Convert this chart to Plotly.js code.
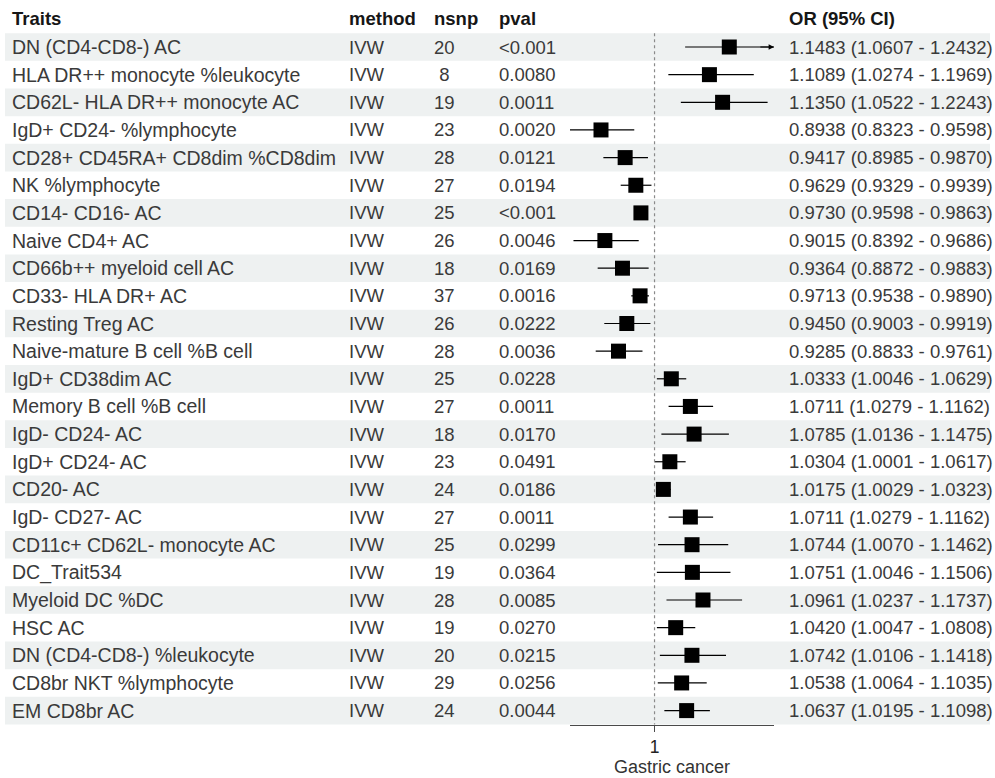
<!DOCTYPE html>
<html>
<head>
<meta charset="utf-8">
<script src="https://cdn.plot.ly/plotly-3.0.1.min.js"></script>
<style>html,body{margin:0;padding:0;background:#fff;}#chart{width:995px;height:778px;}</style>
</head>
<body>
<div id="chart"></div>
<script>
// ---- Data ----
const traits = [
  "DN (CD4-CD8-) AC",
  "HLA DR++ monocyte %leukocyte",
  "CD62L- HLA DR++ monocyte AC",
  "IgD+ CD24- %lymphocyte",
  "CD28+ CD45RA+ CD8dim %CD8dim",
  "NK %lymphocyte",
  "CD14- CD16- AC",
  "Naive CD4+ AC",
  "CD66b++ myeloid cell AC",
  "CD33- HLA DR+ AC",
  "Resting Treg AC",
  "Naive-mature B cell %B cell",
  "IgD+ CD38dim AC",
  "Memory B cell %B cell",
  "IgD- CD24- AC",
  "IgD+ CD24- AC",
  "CD20- AC",
  "IgD- CD27- AC",
  "CD11c+ CD62L- monocyte AC",
  "DC_Trait534",
  "Myeloid DC %DC",
  "HSC AC",
  "DN (CD4-CD8-) %leukocyte",
  "CD8br NKT %lymphocyte",
  "EM CD8br AC"
];
const method = ["IVW","IVW","IVW","IVW","IVW","IVW","IVW","IVW","IVW","IVW","IVW","IVW","IVW","IVW","IVW","IVW","IVW","IVW","IVW","IVW","IVW","IVW","IVW","IVW","IVW"];
const nsnp = [20, 8, 19, 23, 28, 27, 25, 26, 18, 37, 26, 28, 25, 27, 18, 23, 24, 27, 25, 19, 28, 19, 20, 29, 24];
const pval = ["<0.001","0.0080","0.0011","0.0020","0.0121","0.0194","<0.001","0.0046","0.0169","0.0016","0.0222","0.0036","0.0228","0.0011","0.0170","0.0491","0.0186","0.0011","0.0299","0.0364","0.0085","0.0270","0.0215","0.0256","0.0044"];
const orVal = [1.1483, 1.1089, 1.1350, 0.8938, 0.9417, 0.9629, 0.9730, 0.9015, 0.9364, 0.9713, 0.9450, 0.9285, 1.0333, 1.0711, 1.0785, 1.0304, 1.0175, 1.0711, 1.0744, 1.0751, 1.0961, 1.0420, 1.0742, 1.0538, 1.0637];
const lower = [1.0607, 1.0274, 1.0522, 0.8323, 0.8985, 0.9329, 0.9598, 0.8392, 0.8872, 0.9538, 0.9003, 0.8833, 1.0046, 1.0279, 1.0136, 1.0001, 1.0029, 1.0279, 1.0070, 1.0046, 1.0237, 1.0047, 1.0106, 1.0064, 1.0195];
const upper = [1.2432, 1.1969, 1.2243, 0.9598, 0.9870, 0.9939, 0.9863, 0.9686, 0.9883, 0.9890, 0.9919, 0.9761, 1.0629, 1.1162, 1.1475, 1.0617, 1.0323, 1.1162, 1.1462, 1.1506, 1.1737, 1.0808, 1.1418, 1.1035, 1.1098];
const headers = ["Traits", "method", "nsnp", "pval", "OR (95% CI)"];
const xTitle = "Gastric cancer";

// ---- Layout constants ----
const W = 995, H = 778;
const rowTop = 47, rowStep = 27.65;           // pixel centre of row 1, row spacing
const yTopVal = -rowTop / rowStep + 1;        // y value at pixel 0
const yBotVal = (H - rowTop) / rowStep + 1;   // y value at pixel H
const xRange = [0.8323, 1.237];
const colX = [10, 347, 432, 497, 787];        // left edge of each text column (px)
const FONT = "Liberation Sans, Arial, sans-serif";
const bodyColor = "#3a3a3a";
const headColor = "#161616";
const FS = 18.5;
const colFS = [19.5, FS, FS, FS, FS];

const n = traits.length;
const rows = traits.map((_, i) => i + 1);
const nsnpW = Math.max(...nsnp.map(v => String(v).length));
const ciText = orVal.map((v, i) => v.toFixed(4) + " (" + lower[i].toFixed(4) + " - " + upper[i].toFixed(4) + ")");

const shapes = [];
// alternating row shading
rows.forEach(r => {
  if (r % 2 === 1) {
    shapes.push({type: "rect", layer: "below", xref: "paper", yref: "y",
      x0: 5 / W, x1: 990 / W, y0: r - 0.5, y1: r + 0.5,
      fillcolor: "#eef1f1", line: {width: 0}});
  }
});
// reference line at OR = 1
shapes.push({type: "line", xref: "x", yref: "y", x0: 1, x1: 1, y0: 0.5, y1: n + 0.5,
  line: {color: "#8a8a8a", width: 1.2, dash: "dot"}});

const annotations = [];
const cols = [traits, method, nsnp.map(v => String(v).padStart(nsnpW, "\u00a0")), pval, ciText];
headers.forEach((h, c) => {
  annotations.push({xref: "paper", yref: "y", x: colX[c] / W, y: -0.03, xanchor: "left", yanchor: "middle",
    text: "<b>" + h + "</b>", showarrow: false, font: {family: FONT, size: FS, color: headColor}});
});
cols.forEach((col, c) => {
  col.forEach((t, i) => {
    annotations.push({xref: "paper", yref: "y", x: colX[c] / W, y: rows[i], xanchor: "left", yanchor: "middle",
      text: t, showarrow: false, font: {family: FONT, size: colFS[c], color: bodyColor}});
  });
});
// arrows where the CI runs past the axis range
upper.forEach((u, i) => {
  if (u > xRange[1]) {
    annotations.push({xref: "x", yref: "y", axref: "x", ayref: "y",
      x: xRange[1], y: rows[i], ax: xRange[1] - 0.03, ay: rows[i], text: "",
      showarrow: true, arrowhead: 2, arrowsize: 0.9, arrowwidth: 1.2, arrowcolor: "#000"});
  }
  if (lower[i] < xRange[0]) {
    annotations.push({xref: "x", yref: "y", axref: "x", ayref: "y",
      x: xRange[0], y: rows[i], ax: xRange[0] + 0.03, ay: rows[i], text: "",
      showarrow: true, arrowhead: 2, arrowsize: 0.9, arrowwidth: 1.2, arrowcolor: "#000"});
  }
});

const trace = {
  type: "scatter", mode: "markers", x: orVal, y: rows, hoverinfo: "skip",
  marker: {symbol: "square", size: 15, color: "#000"},
  error_x: {type: "data", symmetric: false,
    array: upper.map((u, i) => u - orVal[i]),
    arrayminus: lower.map((l, i) => orVal[i] - l),
    width: 0, thickness: 1.2, color: "#000"}
};

const axisPx = rowTop + (n - 0.5) * rowStep + 0.5;   // just under the last row band
const layout = {
  width: W, height: H,
  margin: {l: 0, r: 0, t: 0, b: 0, pad: 0},
  paper_bgcolor: "#ffffff", plot_bgcolor: "rgba(0,0,0,0)",
  showlegend: false,
  xaxis: {domain: [570 / W, 774 / W], range: xRange, anchor: "free", position: (H - axisPx) / H,
    showline: true, linecolor: "#4a4a4a", linewidth: 1.5, showgrid: false, zeroline: false,
    tickvals: [1], ticktext: ["1"], ticks: "outside", ticklen: 6, tickcolor: "#4a4a4a", tickwidth: 1.2,
    tickfont: {family: FONT, size: FS - 1, color: "#222"},
    title: {text: xTitle, font: {family: FONT, size: FS - 0.5, color: "#333"}, standoff: 3},
    fixedrange: true},
  yaxis: {domain: [0, 1], range: [yBotVal, yTopVal], visible: false, fixedrange: true},
  shapes: shapes,
  annotations: annotations
};

Plotly.newPlot("chart", [trace], layout, {staticPlot: true, displayModeBar: false});
</script>
</body>
</html>
